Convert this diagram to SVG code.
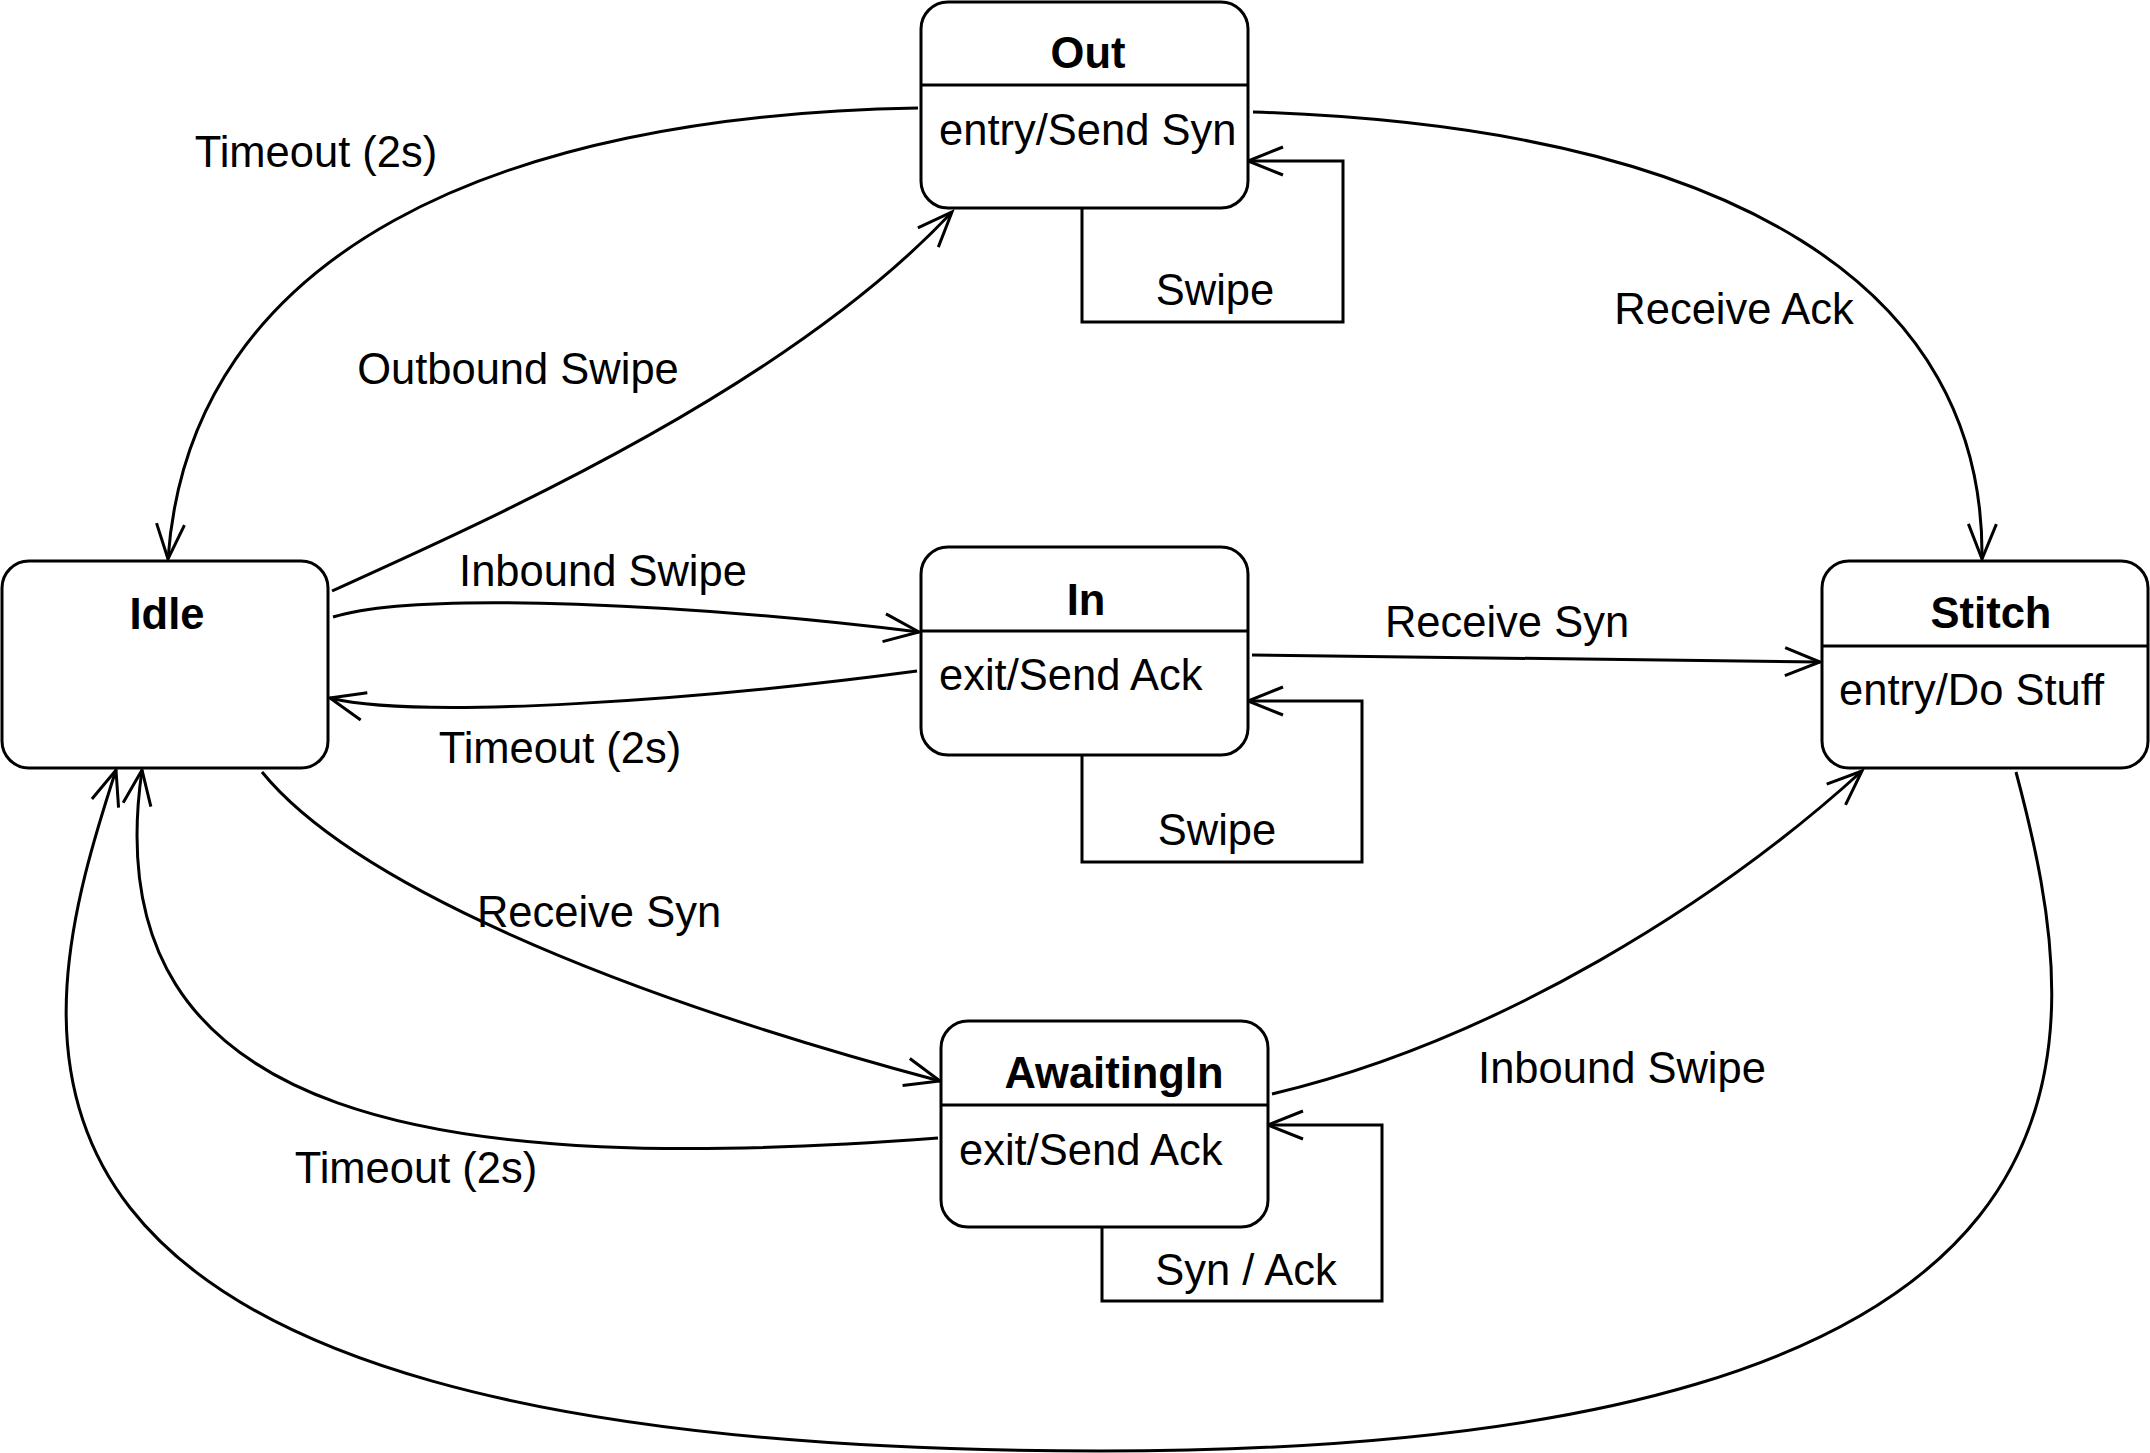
<svg xmlns="http://www.w3.org/2000/svg" width="2150" height="1453" viewBox="0 0 2150 1453">
<defs>
<style>
.box{fill:#fff;stroke:#000;stroke-width:3}
.div{stroke:#000;stroke-width:3}
.title{font-family:"Liberation Sans",Arial,sans-serif;font-size:43.5px;font-weight:bold;fill:#000;text-anchor:middle}
.body{font-family:"Liberation Sans",Arial,sans-serif;font-size:43.5px;fill:#000}
.lbl{font-family:"Liberation Sans",Arial,sans-serif;font-size:43.5px;fill:#000;text-anchor:middle}
.edge{fill:none;stroke:#000;stroke-width:3;marker-end:url(#arr)}
</style>
<marker id="arr" markerUnits="userSpaceOnUse" markerWidth="40" markerHeight="34" viewBox="0 0 40 34" refX="37" refY="17" orient="auto" overflow="visible">
<path d="M2,3 L37,17 L2,31" fill="none" stroke="#000" stroke-width="3"/>
</marker>
</defs>
<rect width="2150" height="1453" fill="#fff"/>

<g id="connectors">
<!-- Out -> Idle : Timeout -->
<path class="edge" d="M918,108 C500,115 190,250 168,559"/>
<!-- Idle -> Out : Outbound Swipe -->
<path class="edge" d="M332,591 C500,515 790,385 952,212"/>
<!-- Idle -> In : Inbound Swipe -->
<path class="edge" d="M333,617 C420,590 700,605 919,632"/>
<!-- In -> Idle : Timeout -->
<path class="edge" d="M917,671 C700,700 420,720 330,698"/>
<!-- In -> Stitch : Receive Syn -->
<path class="edge" d="M1252,655 L1820,662"/>
<!-- Out -> Stitch : Receive Ack -->
<path class="edge" d="M1253,112 C1740,128 1985,290 1982,559"/>
<!-- Idle -> AwaitingIn : Receive Syn -->
<path class="edge" d="M262,772 C350,880 600,990 940,1081"/>
<!-- AwaitingIn -> Idle : Timeout -->
<path class="edge" d="M938,1138 C450,1175 90,1130 142,770"/>
<!-- AwaitingIn -> Stitch : Inbound Swipe -->
<path class="edge" d="M1272,1094 C1500,1040 1720,900 1862,771"/>
<!-- Stitch -> Idle : big loop -->
<path class="edge" d="M2016,772 C2090,1050 2150,1451 1100,1451 C-90,1451 32,1030 116,770"/>
<!-- self loops -->
<path class="edge" d="M1082,208 V322 H1343 V161 H1248"/>
<path class="edge" d="M1082,755 V862 H1362 V701 H1248"/>
<path class="edge" d="M1102,1227 V1301 H1382 V1125 H1268"/>
<!-- labels -->
<text class="lbl" x="316" y="167">Timeout (2s)</text>
<text class="lbl" x="518" y="384">Outbound Swipe</text>
<text class="lbl" x="603" y="586">Inbound Swipe</text>
<text class="lbl" x="560" y="763">Timeout (2s)</text>
<text class="lbl" x="1507" y="637">Receive Syn</text>
<text class="lbl" x="1734" y="324">Receive Ack</text>
<text class="lbl" x="599" y="927">Receive Syn</text>
<text class="lbl" x="416" y="1183">Timeout (2s)</text>
<text class="lbl" x="1622" y="1083">Inbound Swipe</text>
<text class="lbl" x="1215" y="305">Swipe</text>
<text class="lbl" x="1217" y="845">Swipe</text>
<text class="lbl" x="1246" y="1285">Syn / Ack</text>
</g>

<g id="node-out">
<rect class="box" x="921" y="2" width="327" height="206" rx="27" ry="27"/>
<line class="div" x1="921" y1="85" x2="1248" y2="85"/>
<text class="title" x="1088" y="68">Out</text>
<text class="body" x="939" y="145">entry/Send Syn</text>
</g>

<g id="node-idle">
<rect class="box" x="2" y="561" width="326" height="207" rx="27" ry="27"/>
<text class="title" x="167" y="629">Idle</text>
</g>

<g id="node-in">
<rect class="box" x="921" y="547" width="327" height="208" rx="27" ry="27"/>
<line class="div" x1="921" y1="631" x2="1248" y2="631"/>
<text class="title" x="1086" y="615">In</text>
<text class="body" x="939" y="690">exit/Send Ack</text>
</g>

<g id="node-stitch">
<rect class="box" x="1822" y="561" width="326" height="207" rx="27" ry="27"/>
<line class="div" x1="1822" y1="646" x2="2148" y2="646"/>
<text class="title" x="1991" y="628">Stitch</text>
<text class="body" x="1839" y="705">entry/Do Stuff</text>
</g>

<g id="node-awaitingin">
<rect class="box" x="941" y="1021" width="327" height="206" rx="27" ry="27"/>
<line class="div" x1="941" y1="1105" x2="1268" y2="1105"/>
<text class="title" x="1114" y="1088">AwaitingIn</text>
<text class="body" x="959" y="1165">exit/Send Ack</text>
</g>
</svg>
